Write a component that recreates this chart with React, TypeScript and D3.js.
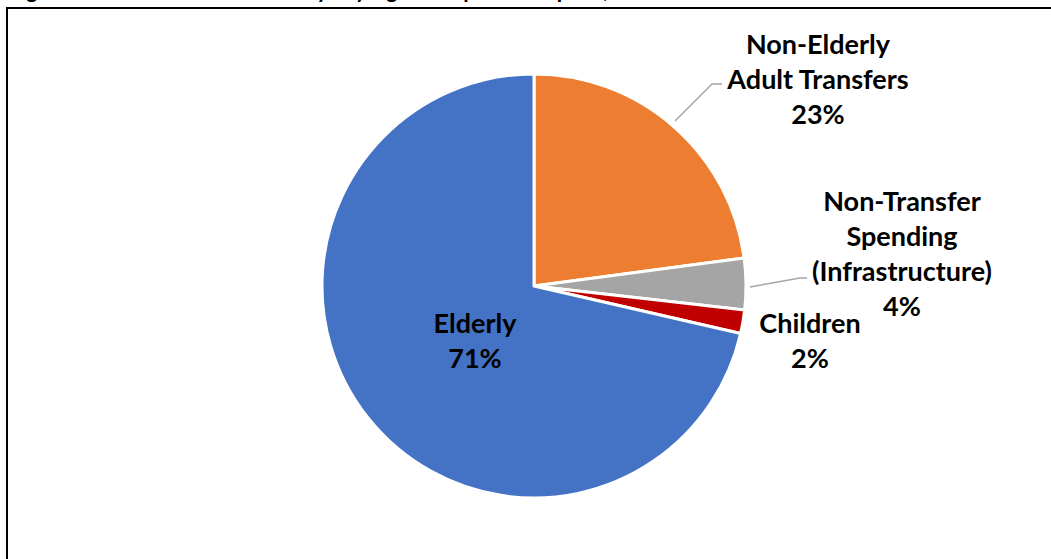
import React from "react";
import * as d3 from "d3";

const categories = ["Non-Elderly Adult Transfers", "Non-Transfer Spending (Infrastructure)", "Children", "Elderly"];
const shares = [22.9, 3.9, 1.8, 71.4];
const colors = ["#ED7D31", "#A5A5A5", "#C00000", "#4472C4"];
const labelLines = [
  ["Non-Elderly", "Adult Transfers"],
  ["Non-Transfer", "Spending", "(Infrastructure)"],
  ["Children"],
  ["Elderly"],
];
const title = "Figure 1: Share of Federal Outlays by Age Group and Purpose, 2019";

const W = 1051;
const H = 559;
const cx = 534;
const cy = 286;
const R = 212;
const font = "Lato, Carlito, Calibri, sans-serif";
const fs = 27;
const lh = 35;

// label anchor positions (center x, first line center y)
const labelPos = [
  { x: 818, y: 43 },
  { x: 902, y: 200 },
  { x: 810, y: 322 },
  { x: 475, y: 322 },
];

export default function App() {
  const pie = d3.pie<number>().sort(null).startAngle(0).endAngle(2 * Math.PI);
  const arcs = pie(shares);
  const arcGen = d3.arc<d3.PieArcDatum<number>>().innerRadius(0).outerRadius(R);

  const leaderOrange = d3.line()([
    [675, 121],
    [712, 84],
    [722, 84],
  ]);
  const leaderGray = d3.line()([
    [750, 287],
    [800, 278],
    [807, 278],
  ]);

  return (
    <svg
      width={W}
      height={H}
      style={{ position: "absolute", left: 0, top: 0, background: "#fff" }}
    >
      <text x={8} y={-2} fontFamily={font} fontWeight="bold" fontSize={22} fill="#000">
        {title}
      </text>
      <path d={`M7,559 L7,8 L1051,8`} fill="none" stroke="#000" strokeWidth={2} />
      <g transform={`translate(${cx},${cy})`}>
        {arcs.map((a, i) => (
          <path key={categories[i]} d={arcGen(a) || ""} fill={colors[i]} stroke="#fff" strokeWidth={3} strokeLinejoin="round" />
        ))}
      </g>
      <path d={leaderOrange || ""} fill="none" stroke="#A6A6A6" strokeWidth={1.5} />
      <path d={leaderGray || ""} fill="none" stroke="#A6A6A6" strokeWidth={1.5} />
      {labelLines.map((lines, i) => {
        const p = labelPos[i];
        const all = [...lines, `${Math.round(shares[i])}%`];
        return (
          <text key={i} fontFamily={font} fontWeight="bold" fontSize={fs} fill="#000" textAnchor="middle">
            {all.map((t, j) => (
              <tspan key={j} x={p.x} y={p.y + j * lh} dominantBaseline="central">
                {t}
              </tspan>
            ))}
          </text>
        );
      })}
    </svg>
  );
}
